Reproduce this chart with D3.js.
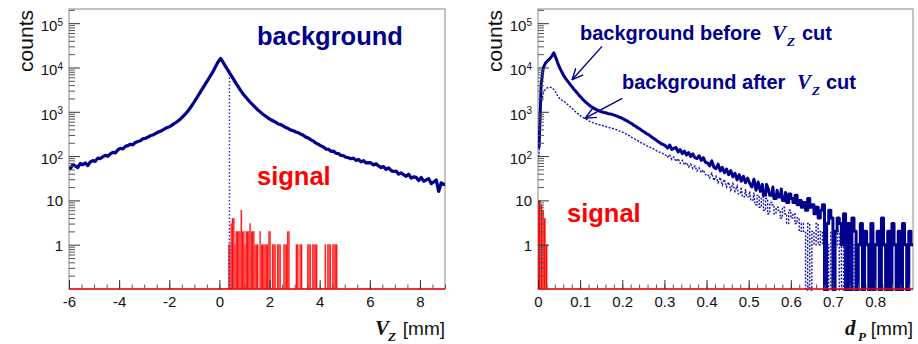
<!DOCTYPE html>
<html lang="en">
<head>
<meta charset="utf-8">
<title>Vz and dP distributions</title>
<script src="https://cdn.jsdelivr.net/npm/d3@7"></script>
<style>
    body { margin: 0; background: #fff; }
    svg { display: block; }
    text { font-family: "Liberation Sans", Arial, sans-serif; }
    .tick line { stroke: #333; }
    .minor line { stroke: #555; }
</style>
</head>
<body>
<script>

// ---- data (counts per bin) ----
// left: background vs Vz, bins of 0.1 mm starting at -6
var vzStart = -6, vzWidth = 0.1;
var vzBackground = [
    52, 63, 60, 55, 68, 64, 70, 61, 74, 79,
    76, 90, 88, 97, 104, 99, 112, 121, 118, 138,
    150, 146, 166, 172, 185, 179, 203, 214, 222, 247,
    252, 268, 291, 300, 322, 348, 362, 392, 423, 446,
    475, 520, 565, 620, 690, 790, 900, 1050, 1250, 1520,
    1870, 2300, 2850, 3500, 4300, 5300, 6600, 8200, 10500, 13500,
    16000, 13000, 10500, 8500, 6900, 5600, 4500, 3700, 3000, 2500,
    2150, 1850, 1600, 1400, 1230, 1080, 970, 870, 790, 720,
    660, 618, 582, 530, 512, 478, 440, 418, 386, 372,
    350, 336, 312, 296, 268, 256, 232, 218, 196, 184,
    170, 160, 144, 142, 128, 130, 116, 114, 103, 102,
    94, 92, 87, 90, 80, 84, 74, 79, 70, 71,
    70, 63, 67, 60, 55, 58, 50, 54, 47, 45,
    46, 39, 42, 38, 35, 39, 32, 34, 33, 28,
    33, 27, 29, 31, 24, 26, 29, 16, 25, 23
];
// left: signal vs Vz, bins of 0.05 mm starting at 0.35
var vzSigStart = 0.35, vzSigWidth = 0.05;
var vzSignal = [
    1, 1, 3, 4, 4, 1, 2, 2, 2, 2,
    6, 2, 2, 1, 2, 2, 2, 3, 2, 2,
    2, 1, 1, 1, 0, 2, 1, 1, 1, 1,
    1, 1, 2, 2, 0, 1, 1, 1, 0, 1,
    1, 1, 0, 0, 1, 1, 1, 2, 2, 0,
    0, 0, 0, 0, 1, 1, 0, 1, 1, 0,
    0, 0, 0, 1, 1, 1, 0, 1, 1, 1,
    1, 0, 0, 0, 0, 0, 0, 1, 0, 1,
    1, 1, 0, 1, 1, 1, 1, 0
];
var vzCut = 0.4;

// right: background vs dP, bins of 0.005 mm starting at 0
var dpStart = 0, dpWidth = 0.005;
var dpBefore = [
    160, 4200, 9800, 12400, 14100, 15600, 17800, 21500, 16500, 12000,
    9400, 7600, 6200, 5300, 4600, 4000, 3500, 3050, 2700, 2350,
    2100, 1850, 1680, 1520, 1390, 1280, 1210, 1130, 1080, 1020,
    990, 960, 940, 905, 890, 860, 830, 800, 760, 735,
    690, 650, 615, 570, 540, 495, 470, 430, 405, 370,
    350, 320, 305, 280, 258, 240, 222, 205, 190, 182,
    170, 152, 178, 142, 150, 156, 124, 140, 114, 130,
    106, 120, 98, 112, 92, 88, 102, 80, 92, 72,
    70, 60, 78, 56, 52, 66, 46, 56, 42, 51,
    38, 47, 34, 41, 29, 38, 27, 35, 25, 32,
    24, 20, 30, 17, 26, 16, 23, 13, 23, 17,
    13, 20, 11, 17, 12, 18, 10, 15, 9, 14,
    11, 9, 13, 8, 10, 7, 9, 6, 11, 7,
    8, 5, 7, 4, 6, 8, 0, 3, 6, 4,
    0, 2, 4, 3, 1, 5, 0, 3, 0, 4,
    2, 0, 1, 3, 0, 2, 1, 0, 3, 0,
    1, 2, 0, 4, 1, 0, 2, 0, 3, 1,
    0, 2, 0, 3, 1, 0, 2, 1
];
var dpAfter = [
    100, 1500, 2600, 3200, 3500, 3600, 3500, 3200, 2700, 2200,
    1950, 1800, 1700, 1550, 1400, 1280, 1150, 1030, 940, 860,
    790, 740, 700, 650, 610, 580, 560, 540, 520, 505,
    490, 470, 460, 445, 430, 420, 405, 390, 370, 355,
    340, 320, 300, 285, 265, 250, 235, 220, 205, 195,
    185, 172, 165, 155, 148, 139, 130, 124, 118, 112,
    106, 94, 108, 84, 95, 76, 88, 69, 80, 63,
    72, 57, 66, 52, 60, 46, 54, 42, 49, 38,
    39, 32, 41, 28, 35, 25, 33, 22, 30, 20,
    26, 17, 24, 16, 21, 14, 20, 12, 18, 12,
    16, 10, 15, 8, 13, 7, 12, 6, 11, 5,
    9, 8, 5, 7, 6, 4, 7, 5, 3, 6,
    4, 5, 3, 4, 2, 3, 2, 0, 3, 0,
    2, 1, 3, 1, 2, 1, 0, 1, 0, 2,
    0, 1, 2, 0, 1, 0, 1, 1, 0, 1,
    0, 0, 0, 0, 0, 0, 0, 0, 0, 0,
    0, 0, 0, 0, 0, 0, 0, 0, 0, 0,
    0, 0, 0, 0, 0, 0, 0, 0
];
// right: signal vs dP, bins of 0.004 mm starting at 0.002
var dpSigStart = 0.002, dpSigWidth = 0.004;
var dpSignal = [10, 8, 6, 4, 1];

// ---- ticks ----
var yExps = [0, 1, 2, 3, 4, 5];
var vzTicks = [-6, -4, -2, 0, 2, 4, 6, 8];
var dpTicks = [0, 0.1, 0.2, 0.3, 0.4, 0.5, 0.6, 0.7, 0.8];
var dpTickLabels = ['0', '0.1', '0.2', '0.3', '0.4', '0.5', '0.6', '0.7', '0.8'];

// annotation arrows (data coords of right panel)
var arrows = [
    {from: [0.152, 30000], to: [0.081, 5300]},
    {from: [0.2, 2000], to: [0.112, 720]}
];

var BLUE = '#00008c', RED = '#ff0000';
var plotTop = 9, plotBottom = 289;

var svg = d3.select('body').append('svg')
    .attr('width', 918)
    .attr('height', 344);

svg.append('defs').append('marker')
    .attr('id', 'head')
    .attr('markerUnits', 'userSpaceOnUse')
    .attr('viewBox', '0 -6 12 12')
    .attr('refX', 11).attr('refY', 0)
    .attr('markerWidth', 12).attr('markerHeight', 12)
    .attr('orient', 'auto')
    .append('path')
    .attr('d', 'M0,-5L11,0L0,5')
    .attr('fill', 'none')
    .attr('stroke', BLUE)
    .attr('stroke-width', 1.4);

function makePanel(id, x0, x1, xDomain) {
    var x = d3.scaleLinear().domain(xDomain).range([x0, x1]);
    var y = d3.scaleLog().domain([0.1, 2.09e5]).range([plotBottom, plotTop]);
    var g = svg.append('g');

    g.append('clipPath').attr('id', 'clip' + id)
        .append('rect')
        .attr('x', x0).attr('y', plotTop)
        .attr('width', x1 - x0).attr('height', plotBottom - plotTop + 2);

    g.append('rect')
        .attr('x', x0).attr('y', plotTop)
        .attr('width', x1 - x0).attr('height', plotBottom - plotTop)
        .attr('fill', 'none')
        .attr('stroke', '#8a8a8a')
        .attr('stroke-width', 1);

    var plot = g.append('g').attr('clip-path', 'url(#clip' + id + ')');
    return {x: x, y: y, g: g, plot: plot, x0: x0, x1: x1};
}

// line through bin centres while counts are high, flat bin tops once they are
// below `flatBelow`; empty bins drop to the frame bottom
function histPath(p, values, start, width, flatBelow) {
    var pts = [[start, values[0]]];
    values.forEach(function(v, i) {
        if (v < flatBelow) {
            pts.push([start + i * width, v], [start + (i + 1) * width, v]);
        } else {
            pts.push([start + (i + 0.5) * width, v]);
        }
    });
    pts.push([start + values.length * width, values[values.length - 1]]);
    return d3.line()
        .x(function(d) { return p.x(d[0]); })
        .y(function(d) { return d[1] > 0 ? p.y(d[1]) : plotBottom + 1; })(pts);
}

function drawBars(p, values, start, width) {
    p.plot.append('g').selectAll('rect')
        .data(values.map(function(v, i) { return {v: v, i: i}; })
            .filter(function(d) { return d.v > 0; }))
        .enter().append('rect')
        .attr('x', function(d) { return p.x(start + d.i * width); })
        .attr('width', function(d) {
            return p.x(start + (d.i + 1) * width) - p.x(start + d.i * width);
        })
        .attr('y', function(d) { return p.y(d.v); })
        .attr('height', function(d) { return plotBottom - p.y(d.v); })
        .attr('fill', RED)
        .attr('stroke', '#ff6666')
        .attr('stroke-width', 0.4);
}

function drawAxes(p, ticks, labels, minorStep, majorLen, minorLen) {
    var minor = d3.range(p.x.domain()[0], p.x.domain()[1] + 1e-9, minorStep);
    p.g.append('g')
        .attr('class', 'minor')
        .attr('transform', 'translate(0,' + plotBottom + ')')
        .call(d3.axisBottom(p.x).tickValues(minor).tickSize(-minorLen).tickSizeOuter(0).tickFormat(''))
        .call(function(s) { s.select('.domain').remove(); });

    var xa = p.g.append('g')
        .attr('transform', 'translate(0,' + plotBottom + ')')
        .call(d3.axisBottom(p.x).tickValues(ticks).tickSize(-majorLen).tickSizeOuter(0)
            .tickPadding(7)
            .tickFormat(function(d, i) { return labels[i]; }));
    xa.attr('font-size', null).attr('font-family', null);
    xa.select('.domain').remove();
    xa.selectAll('text')
        .style('font-size', '15px')
        .attr('fill', '#111');

    // y minor ticks
    var yMinor = [];
    for (var e = -1; e <= 5; e++) {
        for (var m = 2; m <= 9; m++) {
            var v = m * Math.pow(10, e);
            if (v < p.y.domain()[1]) yMinor.push(v);
        }
    }
    p.g.append('g')
        .attr('class', 'minor')
        .attr('transform', 'translate(' + p.x0 + ',0)')
        .call(d3.axisLeft(p.y).tickValues(yMinor).tickSize(-6).tickSizeOuter(0).tickFormat(''))
        .call(function(s) { s.select('.domain').remove(); });

    var ya = p.g.append('g')
        .attr('transform', 'translate(' + p.x0 + ',0)')
        .call(d3.axisLeft(p.y).tickValues(yExps.map(function(e) { return Math.pow(10, e); }))
            .tickSize(-11).tickSizeOuter(0).tickFormat(''));
    ya.attr('font-size', null).attr('font-family', null);
    ya.select('.domain').remove();
    ya.selectAll('.tick').each(function(d, i) {
        var e = yExps[i];
        var t = d3.select(this).append('text')
            .attr('x', -6)
            .attr('text-anchor', 'end')
            .attr('fill', '#111')
            .style('font-size', '15px');
        if (e < 2) {
            t.attr('dy', '0.36em').text(e === 0 ? '1' : '10');
        } else {
            t.attr('dy', '0.5em');
            t.append('tspan').text('10');
            t.append('tspan').attr('dy', '-0.55em').style('font-size', '10px').text(e);
        }
    });
}

function countsLabel(xPos) {
    svg.append('text')
        .attr('transform', 'translate(' + xPos + ',' + (plotTop + 1) + ') rotate(-90)')
        .attr('text-anchor', 'end')
        .style('font-size', '21px')
        .attr('fill', '#111')
        .text('counts');
}

function axisTitle(xRight, letter, sub, xLetter) {
    svg.append('text')
        .attr('x', xLetter).attr('y', 335)
        .style('font-family', '"Liberation Serif", "Times New Roman", serif')
        .style('font-style', 'italic').style('font-weight', 'bold')
        .style('font-size', '21px')
        .attr('fill', '#111')
        .text(letter);
    svg.append('text')
        .attr('x', xLetter + 13).attr('y', 341)
        .style('font-family', '"Liberation Serif", "Times New Roman", serif')
        .style('font-style', 'italic').style('font-weight', 'bold')
        .style('font-size', '13px')
        .attr('fill', '#111')
        .text(sub);
    svg.append('text')
        .attr('x', xRight).attr('y', 335)
        .attr('text-anchor', 'end')
        .style('font-size', '19px')
        .attr('fill', '#111')
        .text('[mm]');
}

function label(x, y, size, color, txt) {
    return svg.append('text')
        .attr('x', x).attr('y', y)
        .style('font-size', size + 'px')
        .style('font-weight', 'bold')
        .attr('fill', color)
        .text(txt);
}

function vzLabel(x, y) {
    svg.append('text')
        .attr('x', x).attr('y', y)
        .style('font-family', '"Liberation Serif", "Times New Roman", serif')
        .style('font-style', 'italic').style('font-weight', 'bold')
        .style('font-size', '21px')
        .attr('fill', BLUE)
        .text('V');
    svg.append('text')
        .attr('x', x + 15).attr('y', y + 6)
        .style('font-family', '"Liberation Serif", "Times New Roman", serif')
        .style('font-style', 'italic').style('font-weight', 'bold')
        .style('font-size', '13px')
        .attr('fill', BLUE)
        .text('Z');
}

// ---- left panel: Vz ----
var left = makePanel('L', 69, 445, [-6, 9]);

drawBars(left, vzSignal, vzSigStart, vzSigWidth);

left.plot.append('line')
    .attr('x1', left.x(vzCut)).attr('x2', left.x(vzCut))
    .attr('y1', plotBottom)
    .attr('y2', left.y(vzBackground[Math.floor((vzCut - vzStart) / vzWidth + 1e-9)]))
    .attr('stroke', '#2f2fc8')
    .attr('stroke-width', 1.5)
    .attr('stroke-dasharray', '1.5,2');

left.plot.append('path')
    .attr('d', histPath(left, vzBackground, vzStart, vzWidth, 0))
    .attr('fill', 'none')
    .attr('stroke', BLUE)
    .attr('stroke-width', 3.2)
    .attr('stroke-linejoin', 'round');

left.plot.append('line')
    .attr('x1', left.x0).attr('x2', left.x1)
    .attr('y1', plotBottom).attr('y2', plotBottom)
    .attr('stroke', RED).attr('stroke-width', 1.6);

drawAxes(left, vzTicks, vzTicks.map(String), 0.5, 9, 4.5);
countsLabel(33);
axisTitle(445, 'V', 'Z', 375);
label(257, 45, 25.5, BLUE, 'background');
label(257, 185, 25.5, RED, 'signal');

// ---- right panel: dP ----
var right = makePanel('R', 538, 913, [0, 0.89]);

drawBars(right, dpSignal, dpSigStart, dpSigWidth);

right.plot.append('path')
    .attr('d', histPath(right, dpBefore, dpStart, dpWidth, 15))
    .attr('fill', 'none')
    .attr('stroke', BLUE)
    .attr('stroke-width', 3)
    .attr('stroke-linejoin', 'round');

right.plot.append('path')
    .attr('d', histPath(right, dpAfter, dpStart, dpWidth, 15))
    .attr('fill', 'none')
    .attr('stroke', '#1515b0')
    .attr('stroke-width', 1.4)
    .attr('stroke-dasharray', '2,1.5');

right.plot.append('line')
    .attr('x1', right.x0).attr('x2', right.x1)
    .attr('y1', plotBottom).attr('y2', plotBottom)
    .attr('stroke', RED).attr('stroke-width', 1.6);

right.plot.append('line')
    .attr('x1', right.x(dpSigStart)).attr('x2', right.x(dpSigStart))
    .attr('y1', plotBottom).attr('y2', right.y(dpSignal[0]))
    .attr('stroke', RED).attr('stroke-width', 1.5);

drawAxes(right, dpTicks, dpTickLabels, 0.02, 9, 4.5);
countsLabel(502);
axisTitle(913, 'd', 'P', 845);

svg.selectAll('line.arrow')
    .data(arrows)
    .enter().append('line')
    .attr('class', 'arrow')
    .attr('x1', function(d) { return right.x(d.from[0]); })
    .attr('y1', function(d) { return right.y(d.from[1]); })
    .attr('x2', function(d) { return right.x(d.to[0]); })
    .attr('y2', function(d) { return right.y(d.to[1]); })
    .attr('stroke', BLUE)
    .attr('stroke-width', 1.4)
    .attr('marker-end', 'url(#head)');

label(580, 40, 20, BLUE, 'background before');
vzLabel(772, 40);
label(802, 40, 20, BLUE, 'cut');
label(622, 89, 20, BLUE, 'background after');
vzLabel(797, 89);
label(826, 89, 20, BLUE, 'cut');
label(567, 222, 25.5, RED, 'signal');

</script>
</body>
</html>
